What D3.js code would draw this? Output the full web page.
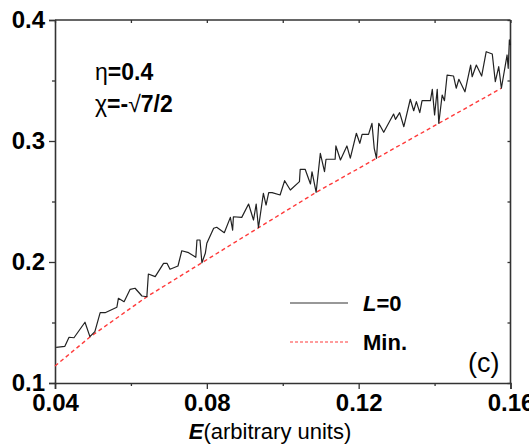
<!DOCTYPE html>
<html><head><meta charset="utf-8">
<script src="https://cdn.jsdelivr.net/npm/d3@7"></script>
<style>body{margin:0;background:#fff}svg{display:block;font-family:"Liberation Sans",Arial,sans-serif}</style>
</head><body><svg id="c" width="529" height="447"></svg>
<script>
const energyL0 = [0.0403,0.0426,0.0437,0.0450,0.0479,0.0492,0.0505,0.0519,0.0532,0.0563,0.0567,0.0582,0.0598,0.0611,0.0629,0.0642,0.0646,0.0664,0.0686,0.0695,0.0703,0.0724,0.0734,0.0752,0.0771,0.0774,0.0782,0.0787,0.0796,0.0800,0.0818,0.0826,0.0846,0.0862,0.0868,0.0870,0.0892,0.0910,0.0923,0.0930,0.0936,0.0949,0.0956,0.0963,0.0972,0.0993,0.1005,0.1020,0.1044,0.1046,0.1059,0.1073,0.1077,0.1088,0.1099,0.1110,0.1114,0.1138,0.1140,0.1152,0.1169,0.1178,0.1194,0.1203,0.1209,0.1226,0.1235,0.1241,0.1247,0.1253,0.1266,0.1292,0.1297,0.1308,0.1319,0.1336,0.1345,0.1352,0.1361,0.1367,0.1389,0.1394,0.1400,0.1407,0.1411,0.1420,0.1426,0.1433,0.1450,0.1457,0.1464,0.1480,0.1495,0.1499,0.1510,0.1524,0.1536,0.1552,0.1560,0.1569,0.1576,0.1591,0.1594,0.1597,0.1600];
const valueL0 = [0.1295,0.1303,0.1378,0.1374,0.1502,0.1383,0.1424,0.1581,0.1581,0.1626,0.1700,0.1672,0.1774,0.1783,0.1719,0.1713,0.1901,0.1879,0.1989,0.1989,0.1940,0.1967,0.2093,0.2077,0.2039,0.2182,0.2182,0.1994,0.2072,0.2155,0.2279,0.2287,0.2242,0.2369,0.2264,0.2374,0.2369,0.2479,0.2347,0.2479,0.2283,0.2568,0.2471,0.2573,0.2573,0.2554,0.2672,0.2595,0.2664,0.2766,0.2766,0.2645,0.2746,0.2576,0.2898,0.2746,0.2849,0.2849,0.2959,0.2843,0.2959,0.2859,0.3064,0.2981,0.3055,0.3055,0.3146,0.2940,0.2857,0.3146,0.3072,0.3223,0.3179,0.3234,0.3118,0.3345,0.3250,0.3325,0.3234,0.3333,0.3333,0.3427,0.3215,0.3427,0.3146,0.3380,0.3333,0.3545,0.3537,0.3436,0.3510,0.3407,0.3628,0.3531,0.3628,0.3537,0.3738,0.3719,0.3490,0.3614,0.3436,0.3711,0.3601,0.3835,0.3793];
const energyMin = [0.0400,0.0492,0.0642,0.0787,0.0936,0.1088,0.1247,0.1411,0.1576];
const valueMin = [0.1140,0.1380,0.1713,0.1994,0.2283,0.2576,0.2857,0.3146,0.3436];
const xTicks = [0.04,0.08,0.12,0.16];
const xMinor = [0.06,0.10,0.14];
const yTicks = [0.1,0.2,0.3,0.4];
const yMinor = [0.15,0.25,0.35];

const svg = d3.select("#c");
const L=55,R=510.5,T=20,B=383;
const x = d3.scaleLinear().domain([0.04,0.16]).range([L,R]);
const y = d3.scaleLinear().domain([0.1,0.4]).range([B,T]);
const axCol="#333";

function styleAxis(g){g.select(".domain").attr("stroke",axCol).attr("stroke-width",1.6);g.selectAll(".tick line").attr("stroke",axCol).attr("stroke-width",1.3);}

svg.append("g").attr("transform",`translate(0,${B})`)
 .call(d3.axisBottom(x).tickValues(xTicks).tickSize(6).tickPadding(5).tickFormat(d3.format(".2f")))
 .call(styleAxis).call(g=>g.selectAll("text").attr("font-size",24).attr("font-weight","bold").attr("fill","#000").attr("font-family","Liberation Sans, Arial"));
svg.append("g").attr("transform",`translate(0,${B})`)
 .call(d3.axisBottom(x).tickValues(xMinor).tickSize(3).tickFormat(""))
 .call(styleAxis).call(g=>g.select(".domain").remove());
svg.append("g").attr("transform",`translate(${L},0)`)
 .call(d3.axisLeft(y).tickValues(yTicks).tickSize(6).tickPadding(4).tickFormat(d3.format(".1f")))
 .call(styleAxis).call(g=>g.selectAll("text").attr("font-size",24).attr("font-weight","bold").attr("fill","#000").attr("font-family","Liberation Sans, Arial"));
svg.append("g").attr("transform",`translate(${L},0)`)
 .call(d3.axisLeft(y).tickValues(yMinor).tickSize(3).tickFormat(""))
 .call(styleAxis).call(g=>g.select(".domain").remove());
svg.append("g").attr("transform",`translate(0,${T})`)
 .call(d3.axisBottom(x).tickValues(xTicks.concat(xMinor)).tickSize(3).tickFormat(""))
 .call(styleAxis).call(g=>g.select(".domain").attr("d",`M${L},0H${R}`));
svg.append("g").attr("transform",`translate(${R},0)`)
 .call(d3.axisLeft(y).tickValues(yTicks.concat(yMinor)).tickSize(3).tickFormat(""))
 .call(styleAxis).call(g=>g.select(".domain").attr("d",`M0,${B}V${T}`));

const line = d3.line().x(d=>x(d[0])).y(d=>y(d[1]));
svg.append("path").datum(energyMin.map((e,i)=>[e,valueMin[i]]))
 .attr("d",line).attr("fill","none").attr("stroke","#ff3a3a").attr("stroke-width",1.4).attr("stroke-dasharray","4,3");
svg.append("path").datum(energyL0.map((e,i)=>[e,valueL0[i]]))
 .attr("d",line).attr("fill","none").attr("stroke","#222").attr("stroke-width",1.2).attr("stroke-linejoin","round");

const ann = svg.append("g").attr("font-size",23).attr("font-weight","bold").attr("fill","#000");
const a1 = ann.append("text").attr("x",95).attr("y",80);
a1.append("tspan").attr("font-weight","normal").text("η");
a1.append("tspan").text("=0.4");
const a2 = ann.append("text").attr("x",95).attr("y",112);
a2.append("tspan").attr("font-weight","normal").text("χ");
a2.append("tspan").text("=-");
a2.append("tspan").attr("font-weight","normal").text("√");
a2.append("tspan").text("7/2");

svg.append("line").attr("x1",290).attr("x2",348).attr("y1",303).attr("y2",303).attr("stroke","#333").attr("stroke-width",1.2);
svg.append("line").attr("x1",290).attr("x2",348).attr("y1",342).attr("y2",342).attr("stroke","#ff3a3a").attr("stroke-width",1.2).attr("stroke-dasharray","3,2");
const t1 = svg.append("text").attr("x",363).attr("y",311).attr("font-size",22).attr("font-weight","bold");
t1.append("tspan").attr("font-style","italic").text("L");
t1.append("tspan").text("=0");
svg.append("text").attr("x",363).attr("y",350).attr("font-size",22).attr("font-weight","bold").text("Min.");
svg.append("text").attr("x",468).attr("y",372).attr("font-size",27).text("(c)");

const xl = svg.append("text").attr("x",270).attr("y",439).attr("text-anchor","middle").attr("font-size",22);
xl.append("tspan").attr("font-weight","bold").attr("font-style","italic").text("E");
xl.append("tspan").text("(arbitrary units)");
</script></body></html>
